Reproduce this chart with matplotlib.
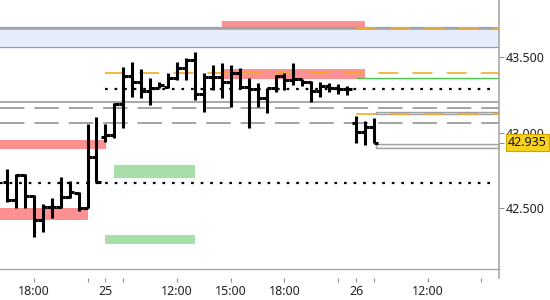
import matplotlib
matplotlib.use("Agg")
import matplotlib.pyplot as plt
import numpy as np

plt.rcParams['font.family'] = ['Noto Sans', 'DejaVu Sans']

# ---- OHLC data (30-minute bars, index positions) ----
bar_idx = np.arange(42)
opens = [42.675, 42.553, 42.719, 42.580, 42.420, 42.509, 42.509, 42.571, 42.600, 42.498,
         42.839, 42.972, 42.985, 43.191, 43.377, 43.335, 43.277, 43.295, 43.304, 43.364,
         43.430, 43.483, 43.257, 43.370, 43.370, 43.337, 43.397, 43.304, 43.291, 43.231,
         43.297, 43.377, 43.350, 43.357, 43.337, 43.277, 43.311, 43.297, 43.291,
         43.065, 43.005, 43.038]
highs = [42.757, 42.726, 42.726, 42.586, 42.527, 42.564, 42.708, 42.681, 42.608, 43.058,
         43.105, 43.058, 43.198, 43.437, 43.472, 43.424, 43.362, 43.339, 43.395, 43.470,
         43.499, 43.539, 43.397, 43.450, 43.463, 43.450, 43.430, 43.364, 43.331, 43.297,
         43.384, 43.397, 43.463, 43.357, 43.344, 43.337, 43.331, 43.324, 43.311,
         43.111, 43.078, 43.098]
lows = [42.542, 42.498, 42.500, 42.305, 42.343, 42.432, 42.498, 42.566, 42.482, 42.498,
        42.673, 42.939, 42.965, 43.032, 43.240, 43.233, 43.184, 43.295, 43.295, 43.350,
        43.350, 43.218, 43.138, 43.284, 43.231, 43.171, 43.297, 43.032, 43.171, 43.131,
        43.271, 43.284, 43.317, 43.311, 43.204, 43.238, 43.271, 43.257, 43.251,
        42.932, 42.919, 42.935]
closes = [42.553, 42.719, 42.580, 42.420, 42.509, 42.509, 42.571, 42.608, 42.498, 42.839,
          42.673, 42.985, 43.191, 43.377, 43.335, 43.277, 43.295, 43.317, 43.366, 43.430,
          43.483, 43.257, 43.370, 43.370, 43.337, 43.397, 43.304, 43.291, 43.231, 43.297,
          43.377, 43.350, 43.357, 43.337, 43.277, 43.311, 43.297, 43.291, 43.291,
          43.005, 43.038, 42.935]
last_price = 42.935

# ---- axis ticks ----
x_tick_pos = [3, 9, 11, 13, 19, 25, 31, 37, 39, 41, 47, 53]
x_tick_labels = ["18:00", "", "25", "", "12:00", "15:00", "18:00", "", "26", "", "12:00", ""]
bold_labels = ["25", "26"]
y_tick_pos = [42.5, 43.0, 43.5]
y_tick_labels = ["42.500", "43.000", "43.500"]

# ---- zones / levels ----
band_low, band_high = 43.570, 43.690
band_line_top, band_line_bottom, band_gray = 43.705, 43.570, 43.693
red_zones = [  # (x0, x1, lo, hi)
    (24, 40, 43.705, 43.745),
    (24, 40, 43.357, 43.424),
    (-0.78, 11.05, 42.890, 42.952),
    (-0.78, 9, 42.420, 42.502),
]
green_zones = [
    (12, 21, 42.701, 42.786),
    (11, 21, 42.261, 42.321),
]
gray_boxes = [
    (41.2, 54.97, 43.122, 43.138),
    (41.2, 54.97, 42.899, 42.925),
]
orange_levels = [(43.695, 39, 54.97), (43.397, 11, 54.97), (43.125, 39, 54.97)]
green_level = (43.367, 39, 54.97)
dotted_levels = [(43.293, 11, 54.3), (42.668, -0.78, 54.3)]
gray_solid = 43.202
gray_dashed = [43.162, 43.063]

xmin, xmax = -0.78, 54.97
ymin, ymax = 42.0947, 43.882

fig = plt.figure(figsize=(5.5, 3), dpi=100)
ax = fig.add_axes([0, 31 / 300, 499 / 550, 269 / 300])
ax.set_xlim(xmin, xmax)
ax.set_ylim(ymin, ymax)

# band
ax.axhspan(band_low, band_high, color='#e6ecfb', lw=0, zorder=1)
ax.axhline(band_line_top, color='#7ba1e2', lw=0.9, zorder=2)
ax.axhline(band_line_bottom, color='#7ba1e2', lw=0.9, zorder=2)
ax.axhline(band_gray, color='#a4a4a4', lw=1.9, zorder=2)

for x0, x1, lo, hi in red_zones:
    ax.fill_between([x0, x1], lo, hi, color='#fd9090', lw=0, zorder=1.5)
for x0, x1, lo, hi in green_zones:
    ax.fill_between([x0, x1], lo, hi, color='#a8dea8', lw=0, zorder=1.5)
for x0, x1, lo, hi in gray_boxes:
    ax.fill_between([x0, x1], lo, hi, facecolor='#f4f4f4', edgecolor='#a0a0a0', lw=1.0, zorder=1.6)

ax.axhline(gray_solid, color='#a8a8a8', lw=1.4, zorder=2)
for lv in gray_dashed:
    ax.axhline(lv, color='#8c8c8c', lw=1.1, linestyle=(0, (16, 6.5)), zorder=2)

for lv, x0, x1 in dotted_levels:
    ax.hlines(lv, x0, x1, color='black', lw=1.6, linestyles=[(0, (1.2, 3.1))], zorder=2.2)

ax.hlines(green_level[0], green_level[1], green_level[2], color='#4cc84c', lw=1.0, zorder=2.3)
for lv, x0, x1 in orange_levels:
    ax.hlines(lv, x0, x1, color='#f2ab22', lw=1.2, linestyles=[(0, (12, 8.5))], zorder=3)

# OHLC bars
ax.vlines(bar_idx, lows, highs, color='black', lw=2.2, zorder=4)
ax.hlines(opens, bar_idx - 0.5, bar_idx, color='black', lw=2.2, zorder=4)
ax.hlines(closes, bar_idx, bar_idx + 0.5, color='black', lw=2.2, zorder=4)

# spines
for s in ['top', 'left']:
    ax.spines[s].set_visible(False)
ax.spines['bottom'].set_color('#a8a8a8')
ax.spines['bottom'].set_linewidth(1.0)
ax.spines['right'].set_color('#a8a8a8')
ax.spines['right'].set_linewidth(1.2)
ax.spines['right'].set_bounds(42.035, ymax)

# y axis
ax.yaxis.tick_right()
ax.set_yticks(y_tick_pos, labels=y_tick_labels)
ax.set_yticks([last_price], minor=True)
ax.tick_params(axis='y', which='both', direction='out', length=3.6, width=0.8,
               color='#909090', labelsize=9, labelcolor='#222222', pad=1.5)
ax.tick_params(axis='x', bottom=False, labelbottom=False)

# x axis (offset below the plot)
sec = ax.secondary_xaxis(-9 / 269)
sec.set_xticks(x_tick_pos, labels=x_tick_labels)
sec.tick_params(axis='x', direction='out', length=3, width=0.8, color='#909090',
                labelsize=9, labelcolor='#222222', pad=2)
for s in sec.spines.values():
    s.set_visible(False)
for lab in sec.get_xticklabels():
    if lab.get_text() in bold_labels:
        lab.set_fontweight('bold')

# last price label (covers the 43.000 tick label partially, as in the original)
ax.annotate(f"{last_price:.3f}", xy=(1, last_price), xycoords=('axes fraction', 'data'),
            xytext=(6.3, 0), textcoords='offset points', va='center', ha='left',
            fontsize=9, color='#111111',
            bbox=dict(boxstyle='square,pad=0.18', fc='#f8d31c', ec='#d2a200', lw=0.8),
            annotation_clip=False, zorder=10)

fig.savefig('out.png', dpi=100)
